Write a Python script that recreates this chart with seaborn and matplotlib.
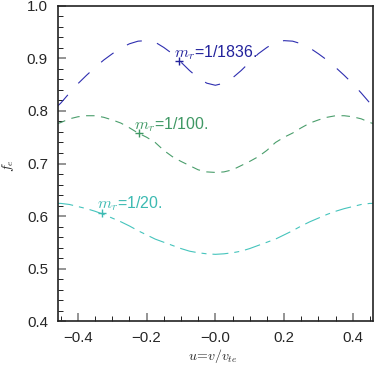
import pandas as pd
import matplotlib
matplotlib.use("Agg")
import matplotlib.pyplot as plt
import seaborn as sns

# velocity grid u = v / v_te
u = [-0.46, -0.45, -0.425, -0.4, -0.375, -0.35, -0.325, -0.3, -0.275, -0.25,
     -0.225, -0.2, -0.175, -0.15, -0.125, -0.1, -0.075, -0.05, -0.025, 0.0,
     0.025, 0.05, 0.075, 0.1, 0.125, 0.15, 0.175, 0.2, 0.225, 0.25,
     0.275, 0.3, 0.325, 0.35, 0.375, 0.4, 0.425, 0.45, 0.46]

# f_e for the three mass ratios
f_1836 = [0.809, 0.815, 0.834, 0.852, 0.868, 0.883, 0.897, 0.909, 0.920, 0.928,
          0.933, 0.934, 0.931, 0.921, 0.909, 0.893, 0.877, 0.863, 0.853, 0.849,
          0.853, 0.863, 0.877, 0.893, 0.909, 0.921, 0.931, 0.934, 0.933, 0.928,
          0.920, 0.909, 0.897, 0.883, 0.868, 0.852, 0.834, 0.815, 0.809]
f_100 = [0.776, 0.778, 0.785, 0.789, 0.791, 0.791, 0.788, 0.783, 0.777, 0.768,
         0.758, 0.750, 0.740, 0.725, 0.713, 0.704, 0.696, 0.688, 0.684, 0.683,
         0.684, 0.688, 0.696, 0.704, 0.713, 0.725, 0.740, 0.750, 0.758, 0.768,
         0.777, 0.783, 0.788, 0.791, 0.791, 0.789, 0.785, 0.778, 0.776]
f_20 = [0.624, 0.624, 0.622, 0.618, 0.614, 0.609, 0.603, 0.596, 0.589, 0.581,
        0.572, 0.564, 0.556, 0.550, 0.544, 0.538, 0.533, 0.530, 0.528, 0.527,
        0.528, 0.530, 0.533, 0.538, 0.544, 0.550, 0.556, 0.564, 0.572, 0.581,
        0.589, 0.596, 0.603, 0.609, 0.614, 0.618, 0.622, 0.624, 0.624]

# label positions (plus markers)
labels = ["$m_r$=1/1836.", "$m_r$=1/100.", "$m_r$=1/20."]
mark_u = [-0.105, -0.222, -0.331]
mark_f = [0.895, 0.758, 0.606]

xticks = [-0.4, -0.2, 0.0, 0.2, 0.4]
xticklabels = ["\u22120.4", "\u22120.2", "\u22120.0", "0.2", "0.4"]
yticks = [0.4, 0.5, 0.6, 0.7, 0.8, 0.9, 1.0]

sns.set_style("ticks")
plt.rcParams["font.family"] = ["Liberation Sans", "DejaVu Sans"]
plt.rcParams["mathtext.fontset"] = "cm"
plt.rcParams["lines.scale_dashes"] = False

series = ["1836", "100", "20"]
colors = {"1836": "#2e2eb0", "100": "#4a9e6c", "20": "#45c4bc"}
text_colors = {"1836": "#22229c", "100": "#3f9864", "20": "#3cbab2"}
dashes = {"1836": (11.2, 11.2), "100": (6.1, 4.7), "20": (11.5, 4.3, 3.6, 4.3)}

df = pd.concat([
    pd.DataFrame({"u": u, "f": f_1836, "mr": "1836"}),
    pd.DataFrame({"u": u, "f": f_100, "mr": "100"}),
    pd.DataFrame({"u": u, "f": f_20, "mr": "20"}),
])

fig = plt.figure(figsize=(3.74, 3.65), dpi=100)
ax = fig.add_axes([0.156, 0.1205, 0.8405, 0.8631])

sns.lineplot(data=df, x="u", y="f", hue="mr", style="mr",
             palette=colors, dashes=dashes, linewidth=0.8,
             legend=False, sort=False, ax=ax)

for s, lab, mu, mf in zip(series, labels, mark_u, mark_f):
    ax.plot(mu, mf, marker="+", ms=6, mew=1.0, color=text_colors[s])
    ax.annotate(lab, (mu, mf), xytext=(-3.5, 3), textcoords="offset points",
                ha="left", va="baseline", fontsize=11.5, color=text_colors[s])

ax.set_xlim(-0.457, 0.458)
ax.set_ylim(0.4, 1.0)
ax.set_xticks(xticks)
ax.set_xticklabels(xticklabels)
ax.set_yticks(yticks)
ax.set_yticklabels([f"{t:.1f}" for t in yticks])
ax.set_xticks([x / 100 for x in range(-45, 50, 5)], minor=True)
ax.set_yticks([y / 100 for y in range(40, 101, 2)], minor=True)

ax.tick_params(which="both", direction="in", top=False, right=False,
               labelsize=10.8, pad=7.5)
ax.tick_params(which="major", length=6, width=1.1, color="#777777")
ax.tick_params(which="minor", length=3.5, width=0.7, color="#222222")
for sp in ax.spines.values():
    sp.set_visible(True)
    sp.set_linewidth(1.2)
    sp.set_color("#222222")

ax.set_xlabel("$u\\!=\\!v/v_{te}$", fontsize=10)
ax.xaxis.set_label_coords(0.49, -0.111)
ax.xaxis.label.set_va("center")
ax.set_ylabel("$f_e$", fontsize=10)
ax.yaxis.set_label_coords(-0.16, 0.495)
ax.yaxis.label.set_va("center")

fig.savefig("out.png", dpi=100)
